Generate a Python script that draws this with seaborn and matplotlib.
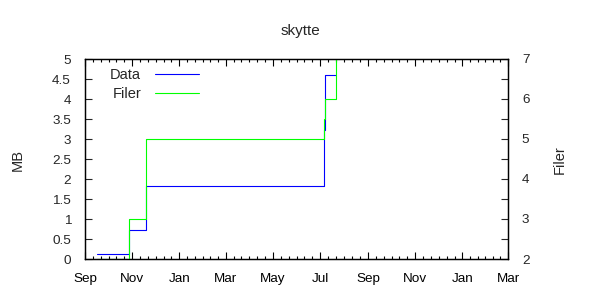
import matplotlib
matplotlib.use("Agg")
import matplotlib.pyplot as plt
import matplotlib.dates as mdates
import matplotlib.ticker as mticker
import seaborn as sns
import pandas as pd
import numpy as np

# ---- data ----
dates = ["2007-09-16", "2007-10-28", "2007-11-19", "2008-07-06", "2008-07-07", "2008-07-21"]
data_mb = [0.12, 0.72, 1.82, 3.22, 4.6, 4.6]
filer = [2, 3, 5, 5.5, 6, 7]
title = "skytte"
x_start, x_end = "2007-09-01", "2009-03-01"

df = pd.DataFrame({"date": pd.to_datetime(dates), "Data": data_mb, "Filer": filer})

sns.set_style("ticks")
plt.rcParams["font.family"] = ["Liberation Sans", "DejaVu Sans"]
plt.rcParams["font.size"] = 9

fig = plt.figure(figsize=(6, 3), dpi=100)
ax = fig.add_axes([85/600, 41/300, 423/600, 200/300])
ax2 = ax.twinx()

sns.lineplot(data=df, x="date", y="Data", ax=ax, color="#0000ff", lw=0.8,
             drawstyle="steps-post", label="Data", legend=False)
sns.lineplot(data=df, x="date", y="Filer", ax=ax2, color="#00ff00", lw=0.8,
             drawstyle="steps-post", label="Filer", legend=False)

ax.set_xlim(pd.Timestamp(x_start), pd.Timestamp(x_end))
ax.set_ylim(0, 5)
ax2.set_ylim(2, 7)

# x ticks
major = pd.date_range(x_start, x_end, freq="2MS")
ax.set_xticks(major)
ax.xaxis.set_major_formatter(mdates.DateFormatter("%b"))
mnums = mdates.date2num(major)
minor = []
for a, b in zip(mnums[:-1], mnums[1:]):
    minor.extend(np.linspace(a, b, 7)[1:-1])
ax.set_xticks(minor, minor=True)

ax.yaxis.set_major_locator(mticker.MultipleLocator(0.5))
ax.yaxis.set_major_formatter(mticker.FuncFormatter(lambda v, p: "%g" % v))
ax2.yaxis.set_major_locator(mticker.MultipleLocator(1))
ax2.yaxis.set_minor_locator(mticker.MultipleLocator(0.5))
ax2.yaxis.set_major_formatter(mticker.FuncFormatter(lambda v, p: "%g" % v))

ax.tick_params(axis="x", which="both", direction="in", top=True, bottom=True, pad=10,
               labelsize=9.7, colors="black")
ax.tick_params(axis="x", which="major", length=5, width=0.8)
ax.tick_params(axis="x", which="minor", length=2.5, width=0.8)
ax.tick_params(axis="y", which="major", direction="in", left=True, right=False, length=5,
               width=0.8, pad=10, labelsize=9.7)
ax2.tick_params(axis="y", which="both", direction="in", right=True, left=False, pad=10,
                labelsize=9.7, width=0.8)
ax2.tick_params(axis="y", which="major", length=5)
ax2.tick_params(axis="y", which="minor", length=5)

for a in (ax, ax2):
    for s in a.spines.values():
        s.set_color("black")
        s.set_linewidth(0.9)

ax.set_xlabel("")
ax.set_ylabel("")
ax2.set_ylabel("")
fig.text(18/600, 1 - 160/300, "MB", rotation=90, ha="center", va="center", fontsize=10.5)
fig.text(560/600, 1 - 160/300, "Filer", rotation=90, ha="center", va="center", fontsize=10.5)
fig.text(0.5, 1 - 31/300, title, ha="center", va="center", fontsize=11)

h1 = ax.get_lines()[0]
h2 = ax2.get_lines()[0]
leg = ax2.legend([h1, h2], ["Data", "Filer"], loc="upper left",
                 bbox_to_anchor=(0.035, 1.008), frameon=False, markerfirst=False,
                 handlelength=3.0, handletextpad=0.95, labelspacing=0.35,
                 fontsize=10.5, borderaxespad=0.3)

fig.savefig("out.png", dpi=100)
